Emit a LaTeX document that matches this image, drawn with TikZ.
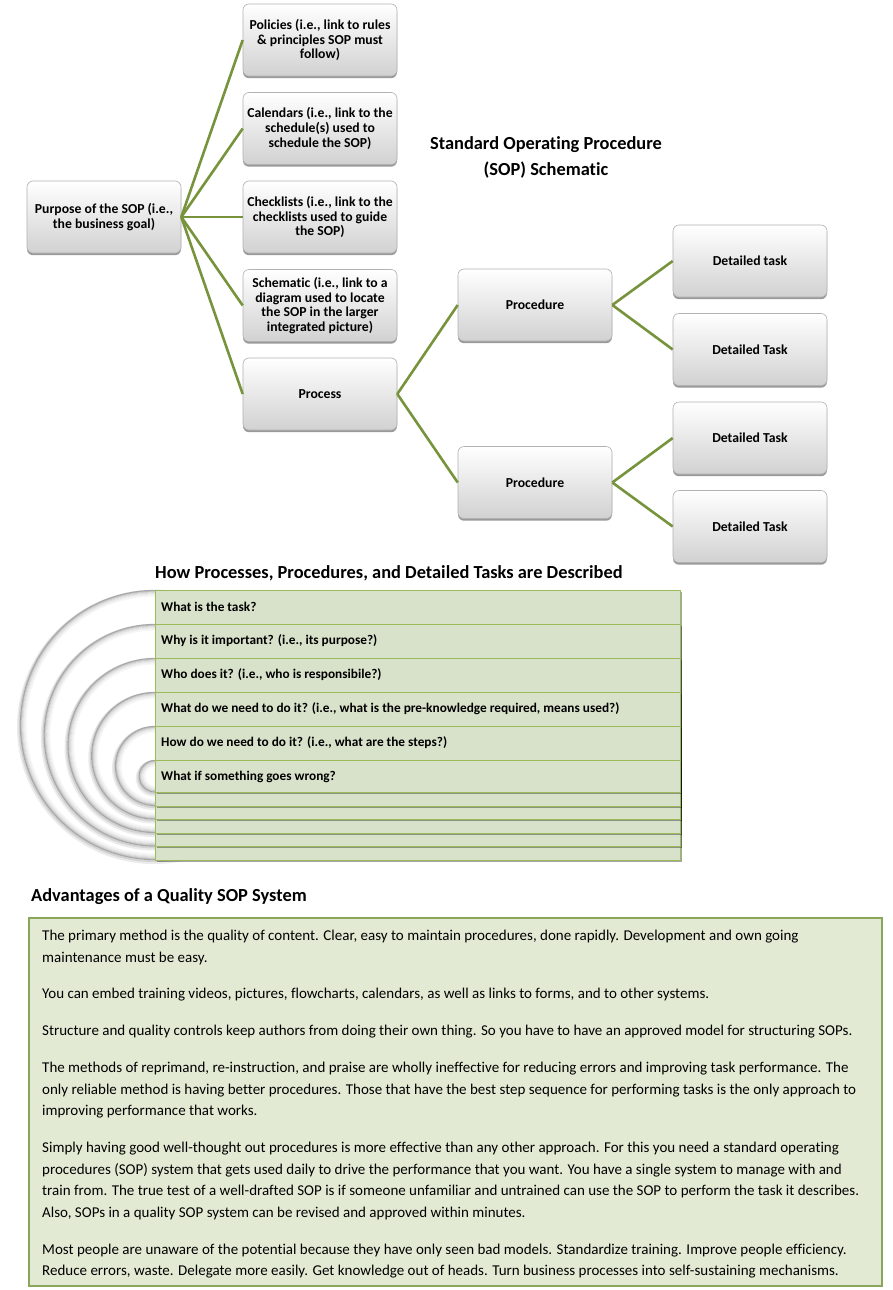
\documentclass[tikz,border=0pt]{standalone}
\usepackage{fontspec}
\setmainfont{Carlito}[Ligatures=NoCommon]
\usetikzlibrary{shadows}
\definecolor{conn}{HTML}{77933C}
\definecolor{rowfill}{HTML}{D8E2CA}
\definecolor{rowline}{HTML}{9BBB59}
\definecolor{advfill}{HTML}{E3EAD4}
\definecolor{advline}{HTML}{8AA65A}
\newcommand\ringdraw[3]{%
  \fill[black, opacity=0.08] (#1-1,#2+2) circle[radius=#3+2];
  \fill[black, opacity=0.10] (#1-0.5,#2+1) circle[radius=#3+1];
  \fill[white] (#1,#2) circle[radius=#3];
  \foreach \d/\c in {6/3, 5/5, 4/8, 3/12, 2/17, 1.1/24, 0.4/34}{%
    \draw[black!\c, line width=1.1pt] (#1,#2) circle[radius=#3-\d];}
}
\tikzset{
  sbox/.style={rectangle, rounded corners=6pt, minimum width=154pt, minimum height=72pt,
    top color=white, bottom color=black!18, draw=black!30, line width=0.6pt,
    drop shadow={shadow xshift=0pt, shadow yshift=-2.2pt, opacity=0.4, fill=black},
    align=center, inner sep=2pt, font=\fontsize{13.7}{14.6}\selectfont\bfseries},
  link/.style={draw=conn, line width=2.6pt},
  rowbox/.style={fill=rowfill, draw=rowline, line width=0.8pt,
    drop shadow={shadow xshift=1.5pt, shadow yshift=-1.5pt, opacity=0.35, fill=black}},
  rowtext/.style={anchor=west, font=\fontsize{13.3}{14}\selectfont\bfseries, inner sep=0pt},
  bodyline/.style={anchor=base west, inner sep=0pt, font=\fontsize{15}{17}\selectfont},
  heading/.style={font=\fontsize{18.4}{20}\selectfont\bfseries, inner sep=0pt}
}
\begin{document}
\begin{tikzpicture}[x=1pt, y=-1pt]
\useasboundingbox (0,0) rectangle (893,1290);
\fill[white] (0,0) rectangle (893,1290);

% ---------- schematic ----------
\node[sbox] (pol) at (320,40) {Policies (i.e., link to rules\\ \& principles SOP must\\ follow)};
\node[sbox] (cal) at (320,128.5) {Calendars (i.e., link to the\\ schedule(s) used to\\ schedule the SOP)};
\node[sbox] (chk) at (320,217) {Checklists (i.e., link to the\\ checklists used to guide\\ the SOP)};
\node[sbox] (sch) at (320,305.5) {Schematic (i.e., link to a\\ diagram used to locate\\ the SOP in the larger\\ integrated picture)};
\node[sbox] (proc) at (320,394) {Process};
\node[sbox] (pur) at (104,217) {Purpose of the SOP (i.e.,\\ the business goal)};
\node[sbox] (pr1) at (535,305) {Procedure};
\node[sbox] (pr2) at (535,482.5) {Procedure};
\node[sbox] (t1) at (750,261) {Detailed task};
\node[sbox] (t2) at (750,349.5) {Detailed Task};
\node[sbox] (t3) at (750,438) {Detailed Task};
\node[sbox] (t4) at (750,526.5) {Detailed Task};

\foreach \b in {pol,cal,chk,sch,proc}{\draw[link] (pur.east) -- (\b.west);}
\draw[link] (proc.east) -- (pr1.west);
\draw[link] (proc.east) -- (pr2.west);
\draw[link] (pr1.east) -- (t1.west);
\draw[link] (pr1.east) -- (t2.west);
\draw[link] (pr2.east) -- (t3.west);
\draw[link] (pr2.east) -- (t4.west);

\node[heading, font=\fontsize{18.4}{26}\selectfont\bfseries, align=center] (title) at (546,157) {Standard Operating Procedure\\(SOP) Schematic};

% ---------- nested target ----------
\node[heading, anchor=west] (how) at (155,573) {How Processes, Procedures, and Detailed Tasks are Described};

\ringdraw{155}{725}{135}
\ringdraw{155}{735.25}{111.25}
\ringdraw{155}{745.5}{87.5}
\ringdraw{155}{755.75}{63.75}
\ringdraw{155}{766}{40}
\ringdraw{155}{776.25}{16.25}

\path[rowbox] (155,590) rectangle (680,860);
\path[rowbox] (155,624) rectangle (680,846.5);
\path[rowbox] (155,658) rectangle (680,833);
\path[rowbox] (155,692) rectangle (680,819.5);
\path[rowbox] (155,726) rectangle (680,806);
\path[rowbox] (155,760) rectangle (680,792.5);

\node[rowtext] (q1) at (161,607) {What is the task?};
\node[rowtext] (q2) at (161,641) {Why is it important? (i.e., its purpose?)};
\node[rowtext] (q3) at (161,675) {Who does it? (i.e., who is responsibile?)};
\node[rowtext] (q4) at (161,709) {What do we need to do it? (i.e., what is the pre-knowledge required, means used?)};
\node[rowtext] (q5) at (161,743) {How do we need to do it? (i.e., what are the steps?)};
\node[rowtext] (q6) at (161,777) {What if something goes wrong?};

% ---------- advantages ----------
\node[heading, anchor=west] (adv) at (31,897) {Advantages of a Quality SOP System};
\path[fill=advfill, draw=advline, line width=1.3pt] (29,918) rectangle (882,1286);

\node[bodyline] (l1) at (42,940.5) {The primary method is the quality of content. Clear, easy to maintain procedures, done rapidly. Development and own going};
\node[bodyline] (l2) at (42,962.2) {maintenance must be easy.};
\node[bodyline] (l3) at (42,998.9) {You can embed training videos, pictures, flowcharts, calendars, as well as links to forms, and to other systems.};
\node[bodyline] (l4) at (42,1035.5) {Structure and quality controls keep authors from doing their own thing. So you have to have an approved model for structuring SOPs.};
\node[bodyline] (l5) at (42,1072.3) {The methods of reprimand, re-instruction, and praise are wholly ineffective for reducing errors and improving task performance. The};
\node[bodyline] (l6) at (42,1094) {only reliable method is having better procedures. Those that have the best step sequence for performing tasks is the only approach to};
\node[bodyline] (l7) at (42,1115.7) {improving performance that works.};
\node[bodyline] (l8) at (42,1152.4) {Simply having good well-thought out procedures is more effective than any other approach. For this you need a standard operating};
\node[bodyline] (l9) at (42,1174.1) {procedures (SOP) system that gets used daily to drive the performance that you want. You have a single system to manage with and};
\node[bodyline] (l10) at (42,1195.8) {train from. The true test of a well-drafted SOP is if someone unfamiliar and untrained can use the SOP to perform the task it describes.};
\node[bodyline] (l11) at (42,1217.5) {Also, SOPs in a quality SOP system can be revised and approved within minutes.};
\node[bodyline] (l12) at (42,1254.2) {Most people are unaware of the potential because they have only seen bad models. Standardize training. Improve people efficiency.};
\node[bodyline] (l13) at (42,1275.9) {Reduce errors, waste. Delegate more easily. Get knowledge out of heads. Turn business processes into self-sustaining mechanisms.};
\end{tikzpicture}
\end{document}
